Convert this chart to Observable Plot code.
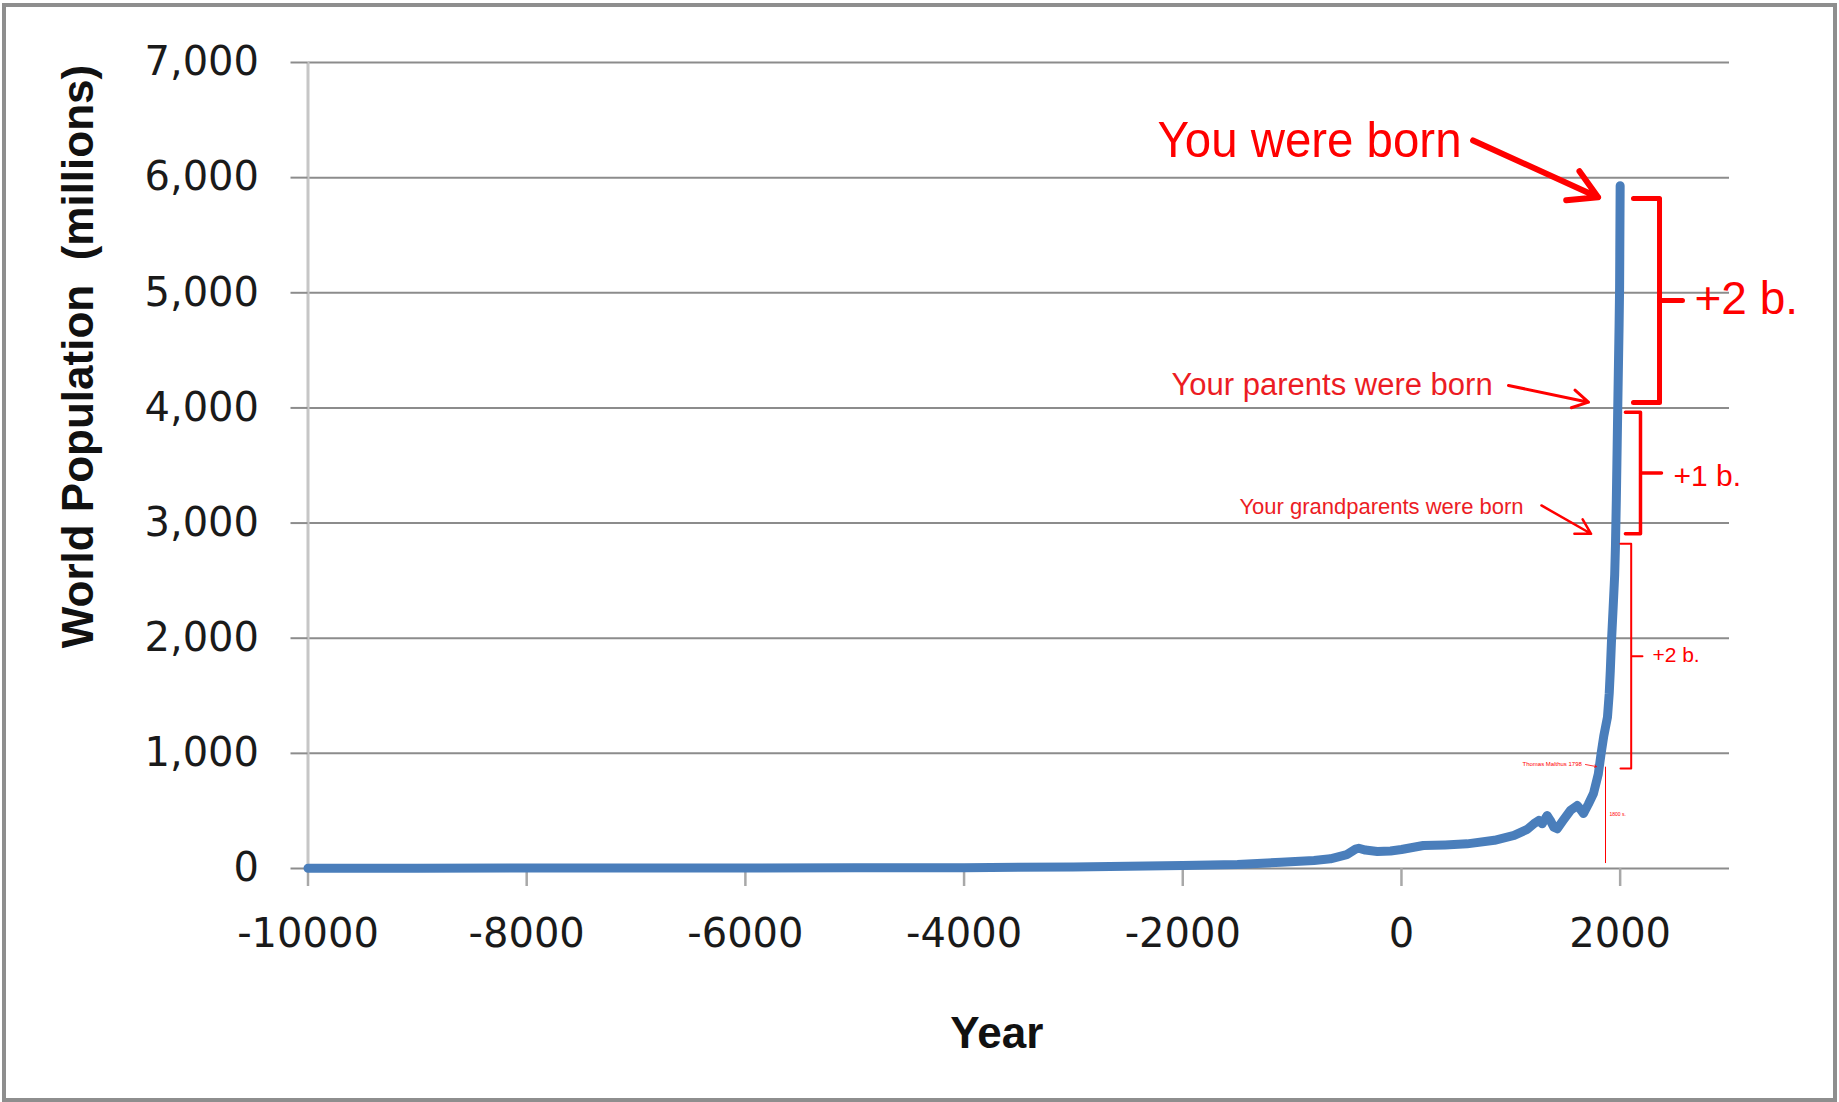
<!DOCTYPE html>
<html><head><meta charset="utf-8">
<script src="https://cdn.jsdelivr.net/npm/d3@7"></script>
<script src="https://cdn.jsdelivr.net/npm/@observablehq/plot@0.6"></script>
<style>
html,body{margin:0;padding:0;background:#fff;}
#wrap{position:relative;width:1839px;height:1102px;overflow:hidden;background:#fff;}
#frame{position:absolute;left:2px;top:3px;width:1835px;height:1099px;box-sizing:border-box;border:4px solid #8e8e8e;pointer-events:none;}
svg{display:block}
</style></head><body>
<div id="wrap"><div id="chart"></div><div id="frame"></div></div>
<script>
// ---- data: world population (millions) by year ----
const years = [-10000,-9000,-8000,-7000,-6000,-5000,-4000,-3000,-2500,-2000,-1500,-1100,-800,-650,-500,-420,-390,-330,-220,-100,0,200,400,600,850,1030,1150,1210,1256,1287,1332,1360,1393,1424,1480,1545,1607,1640,1665,1710,1756,1800,1826,1850,1884,1900,1910,1920,1935,1950,1957,1965,1978,1990,1995,2000];
const population = [2,3,5,5,5,6,7,14,19,27,35,55,70,84,121,168,176,160,148,152,165,200,205,214,245,287,340,388,417,388,460,420,359,345,420,504,547,510,478,560,651,820,1000,1150,1314,1520,1720,1960,2250,2550,2800,3200,4000,4700,5050,5930];

// ---- axes ----
const xTicks = [-10000,-8000,-6000,-4000,-2000,0,2000];
const yTicks = [0,1000,2000,3000,4000,5000,6000,7000];
const xTitle = "Year";
const yTitle = "World Population\u00a0 (millions)";

// ---- annotations (data coordinates: year, population) ----
const noteText = ["You were born","Your parents were born","Your grandparents were born","+2 b.","+1 b.","+2 b.","Thomas Malthus 1798","1800 s."];
const noteYear = [-2231,-2103,-1482,2680,2488,2295,1107,1902];
const notePop  = [6175,4108,3081,4820,3326,1792,886,460];

const arrowYear1 = [655,979,1280,1683];
const arrowPop1  = [6323,4195,3153,903];
const arrowYear2 = [1798,1710,1734,1783];
const arrowPop2  = [5830,4050,2907,885];

const braceOpenYear  = [2122,2048,2003];
const braceSpineYear = [2360,2186,2101];
const braceTipYear   = [2570,2378,2204];
const braceTop       = [5819,3963,2820];
const braceBottom    = [4047,2907,868];

const markerYear = [1866];
const markerFrom = [43];
const markerTo   = [880];

// ---- build ----
const RED = "#ff0000";
const series = years.map((year, i) => ({year, pop: population[i]}));
const notes = noteText.map((t, i) => ({t, year: noteYear[i], pop: notePop[i]}));
const arrows = arrowYear1.map((_, i) => ({x1: arrowYear1[i], y1: arrowPop1[i], x2: arrowYear2[i], y2: arrowPop2[i]}));
const braces = braceTop.map((top, i) => {
  const bottom = braceBottom[i], mid = (top + bottom) / 2;
  const x0 = braceOpenYear[i], xs = braceSpineYear[i], xt = braceTipYear[i];
  return [[x0, top],[xs, top],[xs, mid],[xt, mid],[xs, mid],[xs, bottom],[x0, bottom]].map(([year, pop]) => ({year, pop}));
});

const noteStyle = [
  {fontSize: 50, fill: RED},
  {fontSize: 31, fill: "#ec1c24"},
  {fontSize: 22, fill: "#ec1c24"},
  {fontSize: 46, fill: RED},
  {fontSize: 30, fill: RED},
  {fontSize: 21, fill: RED},
  {fontSize: 6, fill: RED},
  {fontSize: 5, fill: RED}
];
const arrowStyle = [
  {strokeWidth: 6, headLength: 8},
  {strokeWidth: 3, headLength: 9},
  {strokeWidth: 2.5, headLength: 10},
  {strokeWidth: 0.8, headLength: 4}
];
const braceWidth = [5, 3.5, 2];

const marks = [
  Plot.gridY(yTicks, {stroke: "#8c8c8c", strokeOpacity: 1, strokeWidth: 2}),
  Plot.ruleX([-10000], {stroke: "#c6c6c6", strokeWidth: 3}),
  Plot.axisY(yTicks, {tickSize: 17, tickPadding: 32, fontSize: 40, stroke: "#8c8c8c", strokeWidth: 2, fill: "#1a1a1a", tickFormat: d3.format(","), label: null}),
  Plot.axisX(xTicks, {tickSize: 18, tickPadding: 32, fontSize: 40, stroke: "#a8a8a8", strokeWidth: 2.5, fill: "#1a1a1a", tickFormat: d => String(d), label: null}),
  Plot.line(series, {x: "year", y: "pop", stroke: "#4a7ebb", strokeWidth: 9, strokeLinejoin: "round", strokeLinecap: "round"}),
  Plot.ruleX(markerYear, {x: d => d, y1: (d, i) => markerFrom[i], y2: (d, i) => markerTo[i], stroke: RED, strokeWidth: 1})
];
braces.forEach((b, i) => marks.push(Plot.line(b, {x: "year", y: "pop", stroke: RED, strokeWidth: braceWidth[i], strokeLinejoin: "round", strokeLinecap: "round"})));
arrows.forEach((a, i) => marks.push(Plot.arrow([a], {x1: "x1", y1: "y1", x2: "x2", y2: "y2", stroke: RED, strokeWidth: arrowStyle[i].strokeWidth, headLength: arrowStyle[i].headLength, strokeLinecap: "round", strokeLinejoin: "round"})));
notes.forEach((n, i) => marks.push(Plot.text([n], {x: "year", y: "pop", text: "t", textAnchor: "start", lineAnchor: "bottom", fontSize: noteStyle[i].fontSize, fill: noteStyle[i].fill, fontFamily: "Liberation Sans"})));
marks.push(Plot.text([xTitle], {frameAnchor: "bottom", textAnchor: "middle", lineAnchor: "bottom", dx: -22, dy: 179, fontSize: 44, fontWeight: "bold", fontFamily: "Liberation Sans", fill: "#111"}));
marks.push(Plot.text([yTitle], {frameAnchor: "left", textAnchor: "middle", lineAnchor: "bottom", rotate: -90, dx: -215.5, dy: -109, fontSize: 44, fontWeight: "bold", fontFamily: "Liberation Sans", fill: "#111"}));

const svg = Plot.plot({
  width: 1839, height: 1102,
  marginLeft: 307.5, marginRight: 110, marginTop: 62, marginBottom: 234,
  x: {domain: [-10000, 3000], label: null},
  y: {domain: [0, 7000], label: null},
  style: {fontFamily: "DejaVu Sans", background: "white", color: "#1a1a1a"},
  marks
});

// condense the large headline to its drawn width
const condensed = {"You were born": 304};
svg.querySelectorAll("text").forEach(t => {
  const w = condensed[t.textContent];
  if (w) { t.setAttribute("textLength", w); t.setAttribute("lengthAdjust", "spacingAndGlyphs"); }
});
document.getElementById("chart").appendChild(svg);
</script>
</body></html>
